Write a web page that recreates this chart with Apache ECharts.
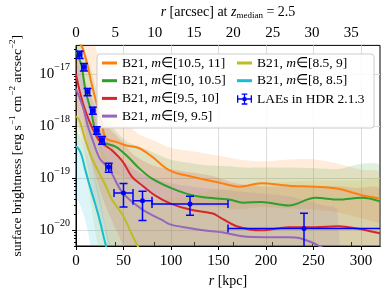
<!DOCTYPE html>
<html><head><meta charset="utf-8">
<script src="https://cdn.jsdelivr.net/npm/echarts@6/dist/echarts.min.js"></script>
<style>html,body{margin:0;padding:0;background:#fff}#c{width:390px;height:298px}</style>
</head><body><div id="c"></div>
<script>
// ---------- data (r in kpc, surface brightness in erg s^-1 cm^-2 arcsec^-2) ----------
const xTicks = [0, 50, 100, 150, 200, 250, 300];
const topTicks = [0, 5, 10, 15, 20, 25, 30, 35];
const yTicks = [1e-20, 1e-19, 1e-18, 1e-17];
const yMinor = [5e-21,6e-21,7e-21,8e-21,9e-21,2e-20,3e-20,4e-20,5e-20,6e-20,7e-20,8e-20,9e-20,
  2e-19,3e-19,4e-19,5e-19,6e-19,7e-19,8e-19,9e-19,2e-18,3e-18,4e-18,5e-18,6e-18,7e-18,8e-18,9e-18,2e-17,3e-17];

// m in [10.5, 11] (orange)
const oR   = [0, 3, 7, 12, 16, 20, 23, 27, 31, 36, 42, 52, 66, 80, 99, 122, 151, 172, 195, 224, 252, 276, 301, 320];
const oMid = [5e-17, 4.2e-17, 3.1e-17, 1.5e-17, 7e-18, 3.6e-18, 2.2e-18, 1.1e-18, 6e-19, 5.3e-19, 5.0e-19, 4.3e-19, 3.8e-19, 2.6e-19, 1.4e-19, 1.07e-19, 8.2e-20, 6.9e-20, 8.0e-20, 7.2e-20, 6.9e-20, 6.3e-20, 4.7e-20, 4.1e-20];
const oHi  = [1.3e-16, 1.1e-16, 9e-17, 7e-17, 5e-17, 3.5e-17, 2.2e-17, 1.2e-17, 6e-18, 3.5e-18, 2e-18, 1.2e-18, 7e-19, 5.5e-19, 3.9e-19, 3.3e-19, 2.7e-19, 2.3e-19, 2.1e-19, 2.3e-19, 2.3e-19, 1.9e-19, 1.45e-19, 1.3e-19];
const oLo  = [1.5e-17, 1.2e-17, 8e-18, 3.5e-18, 1.6e-18, 8e-19, 4.5e-19, 2.5e-19, 1.6e-19, 1.3e-19, 1.2e-19, 1.0e-19, 8e-20, 5.5e-20, 3.5e-20, 3e-20, 2.8e-20, 2.5e-20, 2.8e-20, 2.6e-20, 2.5e-20, 2.2e-20, 1.7e-20, 1.5e-20];

// m in [10, 10.5] (green)
const gR   = [0, 2, 6, 10, 16, 20, 25, 31, 42, 54, 65, 80, 99, 117, 134, 161, 176, 195, 224, 252, 276, 301, 320];
const gMid = [2.8e-17, 2.3e-17, 1.4e-17, 4.8e-18, 1.9e-18, 8.5e-19, 5.6e-19, 4.7e-19, 4.0e-19, 2.65e-19, 1.65e-19, 9.8e-20, 6.6e-20, 5.0e-20, 4.3e-20, 3.9e-20, 3.4e-20, 3.5e-20, 3.0e-20, 4.2e-20, 3.9e-20, 4.2e-20, 3.6e-20];
const gHi  = [8e-17, 7e-17, 5e-17, 2.5e-17, 1.2e-17, 6e-18, 3e-18, 1.6e-18, 8e-19, 5e-19, 4.1e-19, 3.2e-19, 2.3e-19, 2.0e-19, 1.8e-19, 1.7e-19, 1.6e-19, 1.6e-19, 1.6e-19, 1.55e-19, 1.5e-19, 1.9e-19, 1.7e-19];
const gLo  = [8e-18, 6e-18, 3e-18, 8e-19, 2e-19, 8e-20, 3e-20, 1e-20, 1e-22, 1e-22, 1e-22, 1e-22, 1e-22, 1e-22, 1e-22, 1e-22, 1e-22, 1e-22, 1e-22, 1e-22, 1e-22, 1e-22, 1e-22];

// m in [9.5, 10] (red)
const rR   = [0, 4, 9, 14, 20, 25, 31, 38, 49, 59, 70, 84, 99, 120, 144, 151, 169, 195, 224, 252, 276, 294, 320];
const rMid = [1.0e-17, 4.6e-18, 2.2e-18, 1.25e-18, 7.2e-19, 5.1e-19, 4.2e-19, 3.4e-19, 2.1e-19, 1.06e-19, 7.2e-20, 4.6e-20, 3.3e-20, 2.5e-20, 2.1e-20, 1.8e-20, 1.2e-20, 1.0e-20, 1.15e-20, 1.15e-20, 1.2e-20, 1.1e-20, 8.8e-21];
const rHi  = [3e-17, 1.5e-17, 8e-18, 4.5e-18, 2.5e-18, 1.6e-18, 1.1e-18, 8e-19, 5e-19, 3e-19, 2.2e-19, 1.7e-19, 1.5e-19, 1.3e-19, 1.1e-19, 1.0e-19, 8e-20, 7e-20, 7e-20, 7e-20, 7e-20, 6.5e-20, 6e-20];
const rLo  = [3e-18, 1.2e-18, 5e-19, 2.5e-19, 1.2e-19, 6e-20, 3e-20, 1.5e-20, 5e-21, 1e-22, 1e-22, 1e-22, 1e-22, 1e-22, 1e-22, 1e-22, 1e-22, 1e-22, 1e-22, 1e-22, 1e-22, 1e-22, 1e-22];

// m in [9, 9.5] (purple)
const pR   = [0, 4, 8, 12.5, 18, 25, 35, 49, 70, 90, 99, 120, 134, 155, 175, 200, 225, 235, 248, 260, 275];
const pMid = [5.2e-18, 3.4e-18, 2.1e-18, 1.0e-18, 5.1e-19, 2.4e-19, 1.5e-19, 5.3e-20, 2.5e-20, 1.6e-20, 1.3e-20, 1.1e-20, 1.0e-20, 9.1e-21, 7.7e-21, 7.4e-21, 7.4e-21, 7.1e-21, 5.9e-21, 4.6e-21, 3.5e-21];
const pHi  = [1.6e-17, 1.1e-17, 7e-18, 3.5e-18, 1.8e-18, 9e-19, 5e-19, 2.2e-19, 1.2e-19, 9e-20, 8e-20, 7e-20, 6.5e-20, 6e-20, 5.5e-20, 5e-20, 4.5e-20, 4e-20, 3.5e-20, 3e-20, 2.5e-20];
const pLo  = [1.5e-18, 8e-19, 4e-19, 1.5e-19, 5e-20, 1.5e-20, 5e-21, 1e-22, 1e-22, 1e-22, 1e-22, 1e-22, 1e-22, 1e-22, 1e-22, 1e-22, 1e-22, 1e-22, 1e-22, 1e-22, 1e-22];

// m in [8.5, 9] (olive)
const yR   = [0, 3, 6, 10, 15, 20, 25, 30, 38, 49, 60, 68, 80, 100, 150, 200, 250, 300, 320];
const yMid = [1.55e-18, 1.35e-18, 9.5e-19, 5.3e-19, 2.9e-19, 1.8e-19, 1.2e-19, 8.0e-20, 3.8e-20, 2.0e-20, 7.5e-21, 4e-21, 2e-21, 1e-21, 1e-21, 1e-21, 1e-21, 1e-21, 1e-21];
const yHi  = [4e-18, 3.5e-18, 2.8e-18, 1.8e-18, 1.1e-18, 7e-19, 4.5e-19, 3e-19, 1.8e-19, 1.1e-19, 7e-20, 5e-20, 4e-20, 4e-20, 6e-20, 8e-20, 9e-20, 9e-20, 9e-20];
const yLo  = [5e-19, 4e-19, 2.5e-19, 1.2e-19, 4e-20, 1e-20, 3e-21, 1e-22, 1e-22, 1e-22, 1e-22, 1e-22, 1e-22, 1e-22, 1e-22, 1e-22, 1e-22, 1e-22, 1e-22];

// m in [8, 8.5] (cyan)
const cR   = [0, 3, 6, 10, 15, 20, 25, 30, 35, 45];
const cMid = [4.1e-19, 3.6e-19, 2.7e-19, 1.4e-19, 6.6e-20, 3.3e-20, 1.55e-20, 6.5e-21, 3e-21, 1e-21];
const cHi  = [8e-19, 7e-19, 5.5e-19, 3.5e-19, 2e-19, 1e-19, 4.5e-20, 1.5e-20, 6e-21, 2e-21];
const cLo  = [4e-20, 3.5e-20, 2.5e-20, 1.5e-20, 5e-21, 1e-22, 1e-22, 1e-22, 1e-22, 1e-22];

// LAEs in HDR 2.1.3
const laeR    = [3.8, 8.3, 12.2, 17.7, 21.9, 27.4, 34.4, 50, 70, 120, 240];
const laeSB   = [2.37e-17, 1.36e-17, 4.55e-18, 1.99e-18, 8.3e-19, 5.4e-19, 1.65e-19, 5.2e-20, 3.7e-20, 3.2e-20, 1.08e-20];
const laeRlo  = [1.6, 6.1, 10.0, 15.5, 19.7, 25.2, 31.5, 40, 60, 80, 160];
const laeRhi  = [6.0, 10.5, 14.4, 19.9, 24.1, 29.6, 37.3, 60, 80, 160, 330];
const laeSBlo = [2.0e-17, 1.15e-17, 3.85e-18, 1.7e-18, 7.0e-19, 4.5e-19, 1.3e-19, 2.8e-20, 1.55e-20, 1.95e-20, 1e-22];
const laeSBhi = [2.75e-17, 1.6e-17, 5.3e-18, 2.3e-18, 9.7e-19, 6.3e-19, 1.95e-19, 7.9e-20, 5.6e-20, 4.5e-20, 2.13e-20];

// ---------- chart ----------
const FONT = 'Liberation Serif';
const YMIN = 5.0e-21, YMAX = 3.55e-17;
const XMAX = 320, ARCMAX = 38.65;

const groups = [
  {key:'o', name:'B21o', color:'#ff7f0e', r:oR, mid:oMid, lo:oLo, hi:oHi, label:'[10.5, 11]'},
  {key:'g', name:'B21g', color:'#2ca02c', r:gR, mid:gMid, lo:gLo, hi:gHi, label:'[10, 10.5]'},
  {key:'r', name:'B21r', color:'#d62728', r:rR, mid:rMid, lo:rLo, hi:rHi, label:'[9.5, 10]'},
  {key:'p', name:'B21p', color:'#9467bd', r:pR, mid:pMid, lo:pLo, hi:pHi, label:'[9, 9.5]'},
  {key:'y', name:'B21y', color:'#bcbd22', r:yR, mid:yMid, lo:yLo, hi:yHi, label:'[8.5, 9]'},
  {key:'c', name:'B21c', color:'#17becf', r:cR, mid:cMid, lo:cLo, hi:cHi, label:'[8, 8.5]'}
];

const series = [];
groups.forEach(g => {
  series.push({
    type:'custom', name:g.key+'_band', z:1, clip:true, silent:true, animation:false,
    data:g.r.map((x,i)=>[x, g.lo[i], g.hi[i]]),
    encode:{x:0, y:[1,2]},
    renderItem:(params, api) => {
      if (params.dataIndexInside !== 0) return null;
      const n = params.dataInsideLength;
      const up = [], dn = [];
      for (let i = 0; i < n; i++) {
        const x = api.value(0, i);
        up.push(api.coord([x, api.value(2, i)]));
        dn.push(api.coord([x, api.value(1, i)]));
      }
      return {type:'polygon', shape:{points:up.concat(dn.reverse()), smooth:0.3},
        style:{fill:g.color, opacity:0.15}};
    }
  });
});
groups.forEach(g => {
  series.push({type:'line', name:g.name, data:g.r.map((x,i)=>[x,g.mid[i]]), symbol:'none', smooth:0.35,
    lineStyle:{color:g.color, width:2}, itemStyle:{color:g.color}, z:3, animation:false});
});
series.push({
  type:'custom', name:'LAE', z:5, clip:true, animation:false,
  itemStyle:{color:'#0000ff'},
  data: laeR.map((r,i)=>[r, laeSB[i], laeRlo[i], laeRhi[i], laeSBlo[i], laeSBhi[i]]),
  encode:{x:[0,2,3], y:[1,4,5]},
  renderItem:(params, api) => {
    const c = api.coord([api.value(0), api.value(1)]);
    const xl = api.coord([api.value(2), api.value(1)]);
    const xr = api.coord([api.value(3), api.value(1)]);
    const yb = api.coord([api.value(0), api.value(4)]);
    const yt = api.coord([api.value(0), api.value(5)]);
    const k = 4, st = {stroke:'#0000ff', lineWidth:1.5};
    const L = (x1,y1,x2,y2) => ({type:'line', shape:{x1,y1,x2,y2}, style:st});
    return {type:'group', children:[
      L(xl[0],c[1],xr[0],c[1]), L(c[0],yb[1],c[0],yt[1]),
      L(xl[0],c[1]-k,xl[0],c[1]+k), L(xr[0],c[1]-k,xr[0],c[1]+k),
      L(c[0]-k,yb[1],c[0]+k,yb[1]), L(c[0]-k,yt[1],c[0]+k,yt[1]),
      {type:'circle', shape:{cx:c[0], cy:c[1], r:2.5}, style:{fill:'#0000ff'}}
    ]};
  }
});

const legendLabels = {};
groups.forEach(g => { legendLabels[g.name] = '{n|B21, }{i|m}{n|∈' + g.label + '}'; });
legendLabels['LAE'] = '{n|LAEs in HDR 2.1.3}';
const LF = 13.5;
const legRich = {
  n:{fontFamily:FONT, fontSize:LF, color:'#000', lineHeight:14},
  i:{fontFamily:FONT, fontSize:LF, fontStyle:'italic', color:'#000', lineHeight:14}
};
const legBase = {orient:'vertical', padding:0, itemGap:3.7, itemWidth:15, itemHeight:3, selectedMode:false, z:6,
  formatter:n=>legendLabels[n], textStyle:{fontFamily:FONT, fontSize:LF, color:'#000', rich:legRich}};

const laeIcon = 'path://M0,5.3H16V6.7H0Z M0,2H1.4V10H0Z M14.6,2H16V10H14.6Z M7.3,0H8.7V12H7.3Z M5,0H11V1.4H5Z M5,10.6H11V12H5Z M6,4H10V8H6Z';

const option = {
  animation:false,
  backgroundColor:'#fff',
  grid:{left:73, right:10, top:43, bottom:52, show:true, borderColor:'#000', borderWidth:1, backgroundColor:'transparent'},
  graphic:[{type:'rect', z:4, shape:{x:97, y:54, width:277, height:74, r:3},
    style:{fill:'rgba(255,255,255,0.85)', stroke:'#cccccc', lineWidth:1}}],
  legend:[
    Object.assign({}, legBase, {left:102, top:56, data:groups.slice(0,4).map(g=>({name:g.name, icon:'rect'}))}),
    Object.assign({}, legBase, {left:237, top:56, data:groups.slice(4).map(g=>({name:g.name, icon:'rect'}))}),
    Object.assign({}, legBase, {left:237, top:92, itemHeight:12, itemWidth:15, data:[{name:'LAE', icon:laeIcon}]})
  ],
  xAxis:[
    {type:'value', position:'bottom', min:0, max:XMAX, interval:50,
     axisLine:{show:true, lineStyle:{color:'#000', width:1}},
     axisTick:{show:true, customValues:xTicks, length:4, lineStyle:{color:'#000'}},
     axisLabel:{customValues:xTicks, margin:8, fontFamily:FONT, fontSize:15, color:'#000'},
     splitLine:{show:true, lineStyle:{color:'#dcdcdc', width:1}},
     name:'{i|r}{n| [kpc]}', nameLocation:'middle', nameGap:28,
     nameTextStyle:{rich:{i:{fontFamily:FONT, fontSize:14, fontStyle:'italic', color:'#000'}, n:{fontFamily:FONT, fontSize:14, color:'#000'}}}},
    {type:'value', position:'top', min:0, max:ARCMAX, interval:5,
     axisLine:{show:true, lineStyle:{color:'#000', width:1}},
     axisTick:{show:true, customValues:topTicks, length:4, lineStyle:{color:'#000'}},
     axisLabel:{customValues:topTicks, margin:5, fontFamily:FONT, fontSize:15, color:'#000'},
     splitLine:{show:false},
     name:'{i|r}{n| [arcsec] at }{i|z}{s|median}{n| = 2.5}', nameLocation:'middle', nameGap:21,
     nameTextStyle:{rich:{
       i:{fontFamily:FONT, fontSize:14, fontStyle:'italic', color:'#000', lineHeight:17, verticalAlign:'middle'},
       n:{fontFamily:FONT, fontSize:14, color:'#000', lineHeight:17, verticalAlign:'middle'},
       s:{fontFamily:FONT, fontSize:9, color:'#000', lineHeight:9, verticalAlign:'bottom'}}}}
  ],
  yAxis:[
    {type:'log', logBase:10, min:YMIN, max:YMAX,
     axisLine:{show:true, lineStyle:{color:'#000', width:1}},
     axisTick:{show:true, customValues:yTicks, length:4, lineStyle:{color:'#000'}},
     axisLabel:{customValues:yTicks, margin:6, color:'#000',
       formatter:v=>'{b|10}{s|−' + Math.round(-Math.log10(v)) + '}',
       rich:{b:{fontFamily:FONT, fontSize:15, color:'#000', lineHeight:23, verticalAlign:'middle'},
             s:{fontFamily:FONT, fontSize:10, color:'#000', lineHeight:10, verticalAlign:'top'}}},
     splitLine:{show:true, lineStyle:{color:'#dcdcdc', width:1}},
     name:'{n|surface brightness [erg s}{s|−1}{n| cm}{s|−2}{n| arcsec}{s|−2}{n|]}',
     nameLocation:'middle', nameGap:50, nameRotate:90,
     nameTextStyle:{rich:{
       n:{fontFamily:FONT, fontSize:13.5, color:'#000', lineHeight:18, verticalAlign:'middle'},
       s:{fontFamily:FONT, fontSize:9, color:'#000', lineHeight:9, verticalAlign:'top'}}}},
    {type:'log', logBase:10, min:YMIN, max:YMAX, position:'left',
     axisLine:{show:false}, axisLabel:{show:false}, splitLine:{show:false},
     axisTick:{show:true, customValues:yMinor, length:2, lineStyle:{color:'#000'}}}
  ],
  series:series
};

const chart = echarts.init(document.getElementById('c'), null, {renderer:'canvas'});
chart.setOption(option);
</script></body></html>
